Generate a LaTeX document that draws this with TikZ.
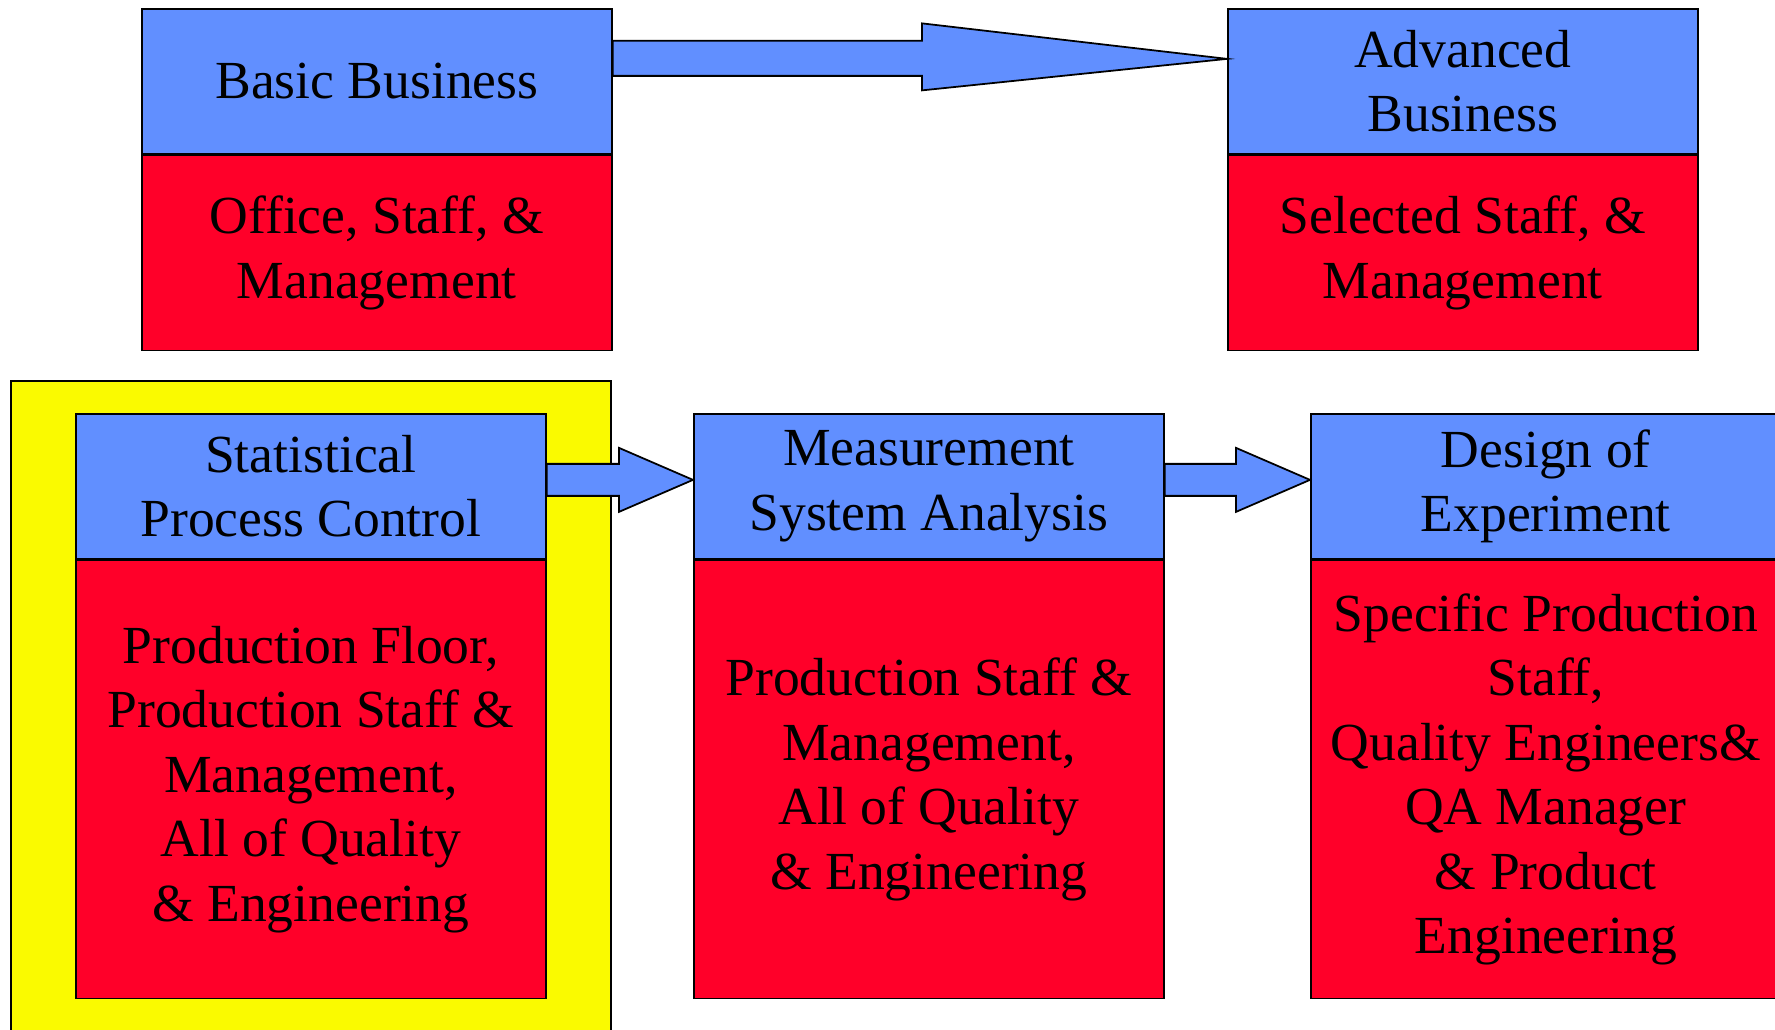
\documentclass[tikz,border=0pt]{standalone}
\usepackage{fontspec}
\setmainfont{Liberation Serif}
\usepackage{tikz}
\usetikzlibrary{positioning,calc}

\definecolor{hdblue}{RGB}{97,143,255}
\definecolor{bdred}{RGB}{255,0,41}
\definecolor{hiyellow}{RGB}{250,250,0}

\tikzset{
    box/.style={draw=black, line width=1pt, inner sep=0pt, align=center,
        minimum width=9.4cm, font=\fontsize{30.5}{36.7}\selectfont},
    head/.style={box, fill=hdblue, minimum height=2.9cm, anchor=north west},
    body/.style={box, fill=bdred, below=0pt of #1},
    blockarr/.style={draw=black, line width=1pt, fill=hdblue, line join=miter}
}

\begin{document}
\begin{tikzpicture}[x=0.02cm, y=-0.02cm]
    \useasboundingbox (0,0) rectangle (1775,1029);
    \clip (0,0) rectangle (1775,1029);

    % highlight behind the first course
    \draw [line width=1pt, fill=hiyellow] (11,381) rectangle (611,1060);

    % Business courses
    \node [head] (bb) at (141,8) {Basic Business};
    \node [body=bb, minimum height=3.9cm] (bbw) {Office, Staff, \&\\Management};
    \node [head] (ab) at (1227,8) {Advanced\\Business};
    \node [body=ab, minimum height=3.9cm] (abw) {Selected Staff, \&\\Management};

    % Quality tools
    \node [head] (spc) at (75,413) {Statistical\\Process Control};
    \node [body=spc, minimum height=8.76cm] (spcw) {Production Floor,\\Production Staff \&\\Management,\\All of Quality\\\& Engineering};
    \node [head] (msa) at (693,413) {Measurement\\System Analysis};
    \node [body=msa, minimum height=8.76cm] (msaw) {Production Staff \&\\Management,\\All of Quality\\\& Engineering};
    \node [head] (doe) at (1310,413) {Design of\\Experiment};
    \node [body=doe, minimum height=8.76cm] (doew) {Specific Production\\Staff,\\Quality Engineers\&\\QA Manager\\\& Product\\Engineering};

    % Block arrows
    \draw [blockarr] ($(bb.east)+(0,-40.5)$) -- ($(ab.west)+(-305,-40.5)$)
        -- ($(ab.west)+(-305,-58)$) -- ($(ab.west)+(0,-22.5)$)
        -- ($(ab.west)+(-305,9)$) -- ($(ab.west)+(-305,-5.5)$)
        -- ($(bb.east)+(0,-5.5)$) -- cycle;

    \foreach \a/\b in {spc/msa, msa/doe} {
        \draw [blockarr] ($(\a.east)+(0,-22.5)$) -- ($(\b.west)+(-74,-22.5)$)
            -- ($(\b.west)+(-74,-38.5)$) -- ($(\b.west)+(0,-6.5)$)
            -- ($(\b.west)+(-74,25.5)$) -- ($(\b.west)+(-74,9.5)$)
            -- ($(\a.east)+(0,9.5)$) -- cycle;
    }
\end{tikzpicture}
\end{document}
